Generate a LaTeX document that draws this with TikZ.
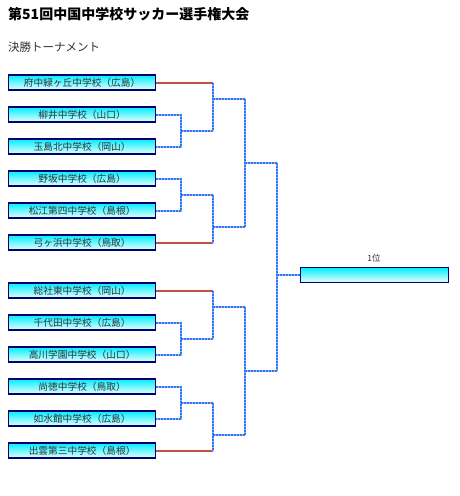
\documentclass[tikz,border=0pt]{standalone}
\usepackage{fontspec}
\setmainfont{Noto Sans CJK JP}
\definecolor{redline}{RGB}{192,80,77}
\definecolor{dotblue}{RGB}{60,110,245}
\definecolor{dotlight}{RGB}{110,200,255}
\definecolor{boxborder}{RGB}{0,0,110}
\definecolor{boxtop}{RGB}{0,238,255}
\definecolor{boxbot}{RGB}{232,255,255}
\definecolor{txtgray}{RGB}{50,50,50}
\begin{document}
\begin{tikzpicture}[x=1pt,y=-1pt,
  team/.style={draw=boxborder, line width=1.2pt, top color=boxtop, bottom color=boxbot,
    minimum width=147pt, minimum height=15pt, inner sep=0pt, anchor=west,
    font=\fontsize{9.7}{10}\selectfont, text=txtgray},
  redl/.style={draw=redline, line width=2pt},
  dotl/.style={draw=dotblue, line width=2pt, dash pattern=on 2pt off 1pt,
    preaction={draw=dotlight, line width=2pt}}]
\useasboundingbox (0,0) rectangle (460,496);
\node[anchor=west, inner sep=0pt, font=\fontsize{14}{16}\selectfont\bfseries] (title) at (8,14) {第51回中国中学校サッカー選手権大会};
\node[anchor=west, inner sep=0pt, font=\fontsize{11.5}{13}\selectfont, text=txtgray] (sub) at (8,47) {決勝トーナメント};
% teams
\node[team] (b1) at (8,82.5) {府中緑ヶ丘中学校（広島）};
\node[team] (b2) at (8,114.5) {柳井中学校（山口）};
\node[team] (b3) at (8,146.5) {玉島北中学校（岡山）};
\node[team] (b4) at (8,178.5) {野坂中学校（広島）};
\node[team] (b5) at (8,210.5) {松江第四中学校（島根）};
\node[team] (b6) at (8,242.5) {弓ヶ浜中学校（鳥取）};
\node[team] (b7) at (8,290.5) {総社東中学校（岡山）};
\node[team] (b8) at (8,322.5) {千代田中学校（広島）};
\node[team] (b9) at (8,354.5) {高川学園中学校（山口）};
\node[team] (b10) at (8,386.5) {尚徳中学校（鳥取）};
\node[team] (b11) at (8,418.5) {如水館中学校（広島）};
\node[team] (b12) at (8,450.5) {出雲第三中学校（島根）};
\node[team, minimum width=147.5pt] (final) at (300,275) {};
\node[font=\fontsize{8.5}{9}\selectfont, text=txtgray] (lab) at (374,258.5) {1位};
% coordinates
\coordinate (r1) at (213,82.5);
\coordinate (r6) at (213,242.5);
\coordinate (r7) at (213,290.5);
\coordinate (r12) at (213,450.5);
\coordinate (a23) at (181,114.5); \coordinate (b23) at (181,146.5); \coordinate (m23) at (181,130.5); \coordinate (n23) at (213,130.5);
\coordinate (a45) at (181,178.5); \coordinate (b45) at (181,210.5); \coordinate (m45) at (181,194.5); \coordinate (n45) at (213,194.5);
\coordinate (a89) at (181,322.5); \coordinate (b89) at (181,354.5); \coordinate (m89) at (181,338.5); \coordinate (n89) at (213,338.5);
\coordinate (a1011) at (181,386.5); \coordinate (b1011) at (181,418.5); \coordinate (m1011) at (181,402.5); \coordinate (n1011) at (213,402.5);
\coordinate (q1a) at (213,98.5); \coordinate (q1b) at (245,98.5);
\coordinate (q2a) at (213,226.5); \coordinate (q2b) at (245,226.5);
\coordinate (q3a) at (213,306.5); \coordinate (q3b) at (245,306.5);
\coordinate (q4a) at (213,434.5); \coordinate (q4b) at (245,434.5);
\coordinate (s1a) at (245,162.5); \coordinate (s1b) at (277,162.5);
\coordinate (s2a) at (245,370.5); \coordinate (s2b) at (277,370.5);
\coordinate (fa) at (277,275);
% red lines
\draw[redl] (b1.east) -- (r1);
\draw[redl] (b6.east) -- (r6);
\draw[redl] (b7.east) -- (r7);
\draw[redl] (b12.east) -- (r12);
% first round dotted
\draw[dotl] (b2.east) -- (a23) -- (b23) -- (b3.east);
\draw[dotl] (m23) -- (n23);
\draw[dotl] (b4.east) -- (a45) -- (b45) -- (b5.east);
\draw[dotl] (m45) -- (n45);
\draw[dotl] (b8.east) -- (a89) -- (b89) -- (b9.east);
\draw[dotl] (m89) -- (n89);
\draw[dotl] (b10.east) -- (a1011) -- (b1011) -- (b11.east);
\draw[dotl] (m1011) -- (n1011);
% quarter
\draw[dotl] (r1) -- (n23); \draw[dotl] (q1a) -- (q1b);
\draw[dotl] (n45) -- (r6); \draw[dotl] (q2a) -- (q2b);
\draw[dotl] (r7) -- (n89); \draw[dotl] (q3a) -- (q3b);
\draw[dotl] (n1011) -- (r12); \draw[dotl] (q4a) -- (q4b);
% semi
\draw[dotl] (q1b) -- (q2b); \draw[dotl] (s1a) -- (s1b);
\draw[dotl] (q3b) -- (q4b); \draw[dotl] (s2a) -- (s2b);
% final
\draw[dotl] (s1b) -- (s2b);
\draw[dotl] (fa) -- (final.west);
\end{tikzpicture}
\end{document}
